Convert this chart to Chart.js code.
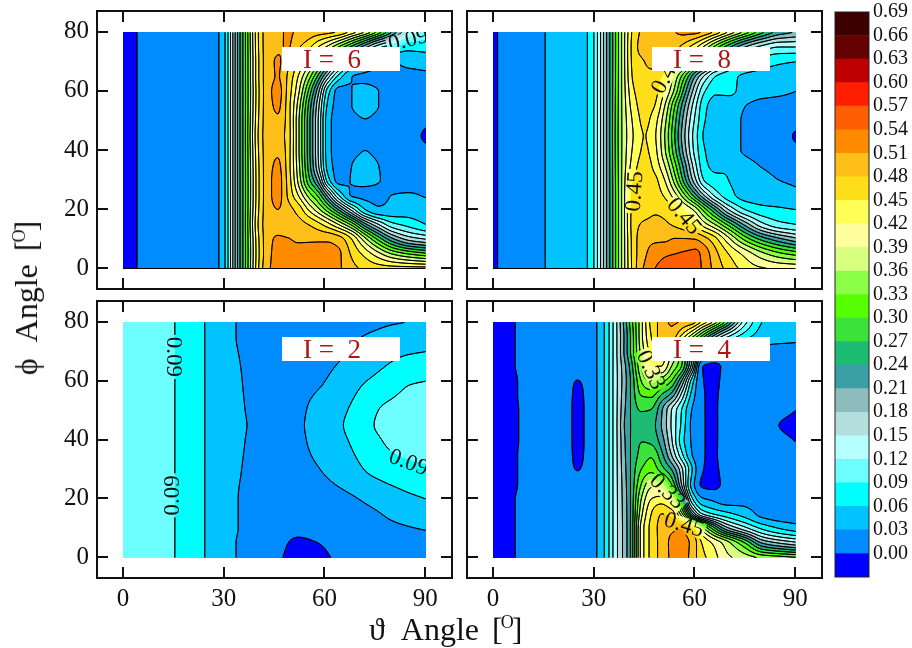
<!DOCTYPE html>
<html>
<head>
<meta charset="utf-8">
<script src="https://cdn.jsdelivr.net/npm/chart.js@4"></script>
<style>
  html, body { margin: 0; padding: 0; background: #fff; }
  #page { position: relative; width: 912px; height: 648px; overflow: hidden; font-family: "Liberation Serif", serif; }
  canvas { position: absolute; left: 0; top: 0; }
  .tag { position: absolute; width: 97px; height: 24px; padding-left: 21px; background: #fff; color: #b01414; font-size: 27px; line-height: 24px; white-space: pre; }
  .title { position: absolute; font-size: 32px; line-height: 34px; white-space: pre; color: #111; }
  .title sup { font-size: 18px; line-height: 0; vertical-align: 12px; margin: 0 -2px; }
  .title i { font-style: normal; margin-left: 5px; }
</style>
</head>
<body>
<div id="page">
  <canvas id="c6" width="912" height="648"></canvas>
  <canvas id="c8" width="912" height="648"></canvas>
  <canvas id="c2" width="912" height="648"></canvas>
  <canvas id="c4" width="912" height="648"></canvas>
  <canvas id="cbar" width="912" height="648"></canvas>
  <div class="tag" style="left:282px;top:47px">I =  6</div>
  <div class="tag" style="left:652px;top:47px">I =  8</div>
  <div class="tag" style="left:282px;top:337px">I =  2</div>
  <div class="tag" style="left:652px;top:337px">I =  4</div>
  <div class="title" style="left:369px;top:612px">ϑ  Angle <i>[<sup>O</sup>]</i></div>
  <div class="title" style="left:26px;top:298px;transform:translate(-50%,-50%) rotate(-90deg)">ϕ  Angle <i>[<sup>O</sup>]</i></div>
</div>
<script>
// --- tick labels and colour levels ---
const thetaTicks = [0, 30, 60, 90];
const phiTicks = [0, 20, 40, 60, 80];
const levels = [0, .03, .06, .09, .12, .15, .18, .21, .24, .27, .30, .33, .36, .39, .42, .45, .48, .51, .54, .57, .60, .63, .66, .69];
const bandColors = ['#0000ff', '#008cff', '#00c3ff', '#00ffff', '#6dffff', '#b5ffff', '#b5dfdf', '#8cbcbc', '#3a9fa5', '#1ebb73', '#3ae23a', '#55ff00', '#8cff47', '#d8ff80', '#ffff9e', '#ffff55', '#ffdf19', '#ffbf19', '#ff8c00', '#ff5f00', '#ff1e00', '#bf0000', '#640000', '#3c0000'];

// --- values, rows go from phi 0 upwards ---
const phiRows = [0, 5, 10, 15, 20, 25, 30, 35, 40, 45, 50, 55, 60, 65, 70, 75, 80];

const thetaI6 = [0, 4, 15, 28.5, 35, 42, 46, 49, 52, 55, 58, 61, 64, 68, 72, 76, 80, 85, 90];
const zI6 = [
  [-.012, 0, .015, .03, .25, .49, .525, .53, .53, .53, .53, .525, .515, .49, .475, .47, .47, .47, .47],
  [-.012, 0, .015, .03, .25, .485, .522, .525, .525, .525, .525, .522, .515, .475, .44, .40, .36, .33, .31],
  [-.012, 0, .015, .03, .25, .485, .515, .512, .505, .505, .505, .505, .495, .45, .37, .29, .22, .17, .15],
  [-.012, 0, .015, .03, .25, .485, .495, .49, .49, .48, .46, .43, .39, .32, .22, .15, .10, .08, .06],
  [-.012, 0, .015, .03, .25, .485, .51, .49, .47, .42, .37, .31, .24, .14, .06, .035, .04, .045, .04],
  [-.012, 0, .015, .03, .25, .485, .52, .475, .42, .35, .29, .19, .09, .027, .024, .022, .03, .032, .028],
  [-.012, 0, .015, .03, .25, .485, .52, .47, .385, .285, .20, .07, .022, .031, .035, .031, .022, .02, .02],
  [-.012, 0, .015, .03, .25, .485, .515, .465, .375, .265, .155, .045, .02, .03, .037, .03, .022, .018, .012],
  [-.012, 0, .015, .03, .25, .485, .505, .465, .37, .26, .15, .04, .018, .024, .03, .024, .02, .015, .005],
  [-.012, 0, .015, .03, .25, .485, .495, .465, .37, .26, .15, .04, .018, .022, .025, .022, .018, .01, -.004],
  [-.012, 0, .015, .03, .25, .485, .505, .465, .37, .26, .15, .04, .018, .024, .029, .024, .02, .015, .005],
  [-.012, 0, .015, .03, .25, .485, .515, .465, .38, .27, .16, .05, .02, .03, .037, .03, .022, .018, .012],
  [-.012, 0, .015, .03, .25, .485, .52, .47, .40, .30, .19, .07, .022, .03, .036, .03, .022, .02, .02],
  [-.012, 0, .015, .03, .25, .485, .512, .475, .42, .35, .26, .16, .08, .03, .025, .022, .022, .022, .024],
  [-.012, 0, .015, .03, .25, .485, .513, .49, .455, .41, .35, .28, .20, .12, .07, .04, .03, .04, .045],
  [-.012, 0, .015, .03, .25, .485, .505, .512, .485, .46, .42, .38, .33, .26, .19, .13, .10, .07, .07],
  [-.012, 0, .015, .03, .25, .485, .50, .515, .505, .50, .495, .49, .482, .44, .39, .32, .24, .15, .11]
];

const thetaI8 = [0, 1.2, 15.4, 28, 34, 38, 42, 45, 48, 51, 54, 57, 60, 63, 66, 70, 75, 80, 85, 90];
const zI8 = [
  [-.005, 0, .03, .06, .22, .355, .47, .515, .54, .555, .565, .565, .555, .53, .50, .47, .44, .425, .42, .42],
  [-.005, 0, .03, .06, .22, .355, .47, .505, .525, .535, .54, .545, .548, .525, .49, .45, .41, .37, .34, .32],
  [-.005, 0, .03, .06, .22, .355, .47, .50, .505, .505, .512, .512, .51, .49, .46, .40, .32, .26, .22, .19],
  [-.005, 0, .03, .06, .22, .355, .47, .485, .49, .485, .475, .46, .44, .40, .36, .29, .20, .13, .10, .09],
  [-.005, 0, .03, .06, .22, .355, .465, .47, .475, .47, .45, .42, .38, .31, .24, .15, .09, .07, .065, .06],
  [-.005, 0, .03, .06, .22, .355, .465, .475, .465, .445, .40, .33, .25, .17, .11, .07, .05, .045, .04, .035],
  [-.005, 0, .03, .06, .22, .355, .455, .47, .458, .42, .345, .25, .16, .085, .068, .06, .05, .04, .03, .026],
  [-.005, 0, .03, .06, .22, .355, .44, .465, .44, .39, .31, .22, .13, .065, .055, .058, .04, .028, .02, .012],
  [-.005, 0, .03, .06, .22, .355, .43, .455, .43, .365, .28, .19, .11, .06, .05, .04, .027, .02, .012, .005],
  [-.005, 0, .03, .06, .22, .355, .425, .451, .425, .36, .27, .18, .105, .055, .05, .04, .027, .02, .012, -.003],
  [-.005, 0, .03, .06, .22, .355, .43, .458, .432, .37, .28, .19, .115, .06, .05, .04, .027, .02, .012, .012],
  [-.005, 0, .03, .06, .22, .355, .44, .465, .45, .39, .30, .21, .13, .065, .05, .045, .03, .022, .02, .02],
  [-.005, 0, .03, .06, .22, .355, .45, .47, .46, .42, .35, .25, .16, .09, .065, .065, .05, .04, .035, .03],
  [-.005, 0, .03, .06, .22, .355, .46, .475, .47, .44, .38, .30, .21, .14, .09, .07, .055, .05, .045, .04],
  [-.005, 0, .03, .06, .22, .355, .465, .48, .49, .475, .45, .41, .35, .29, .22, .15, .10, .075, .065, .06],
  [-.005, 0, .03, .06, .22, .355, .47, .495, .505, .50, .49, .465, .43, .38, .32, .25, .18, .14, .12, .12],
  [-.005, 0, .03, .06, .22, .355, .465, .49, .50, .505, .51, .52, .52, .505, .475, .42, .35, .28, .23, .21]
];

const thetaI2 = [0, 15.3, 24.2, 33.5, 36.5, 45, 52, 58, 64, 70, 75, 80, 85, 90];
const phiI2 = [0, 5, 10, 20, 30, 40, 45, 50, 60, 70, 75, 80];
const zI2 = [
  [.105, .09, .06, .03, .026, .005, -.006, -.004, .003, .012, .016, .018, .02, .02],
  [.105, .09, .06, .03, .026, .008, -.003, 0, .006, .012, .017, .021, .024, .025],
  [.105, .09, .06, .031, .027, .012, .005, .008, .012, .017, .021, .026, .029, .031],
  [.105, .09, .06, .031, .027, .015, .012, .015, .022, .03, .037, .046, .054, .06],
  [.105, .09, .06, .033, .028, .018, .022, .029, .042, .056, .068, .077, .083, .086],
  [.105, .09, .06, .036, .0295, .018, .026, .037, .053, .068, .085, .096, .101, .104],
  [.105, .09, .06, .037, .0305, .018, .027, .038, .056, .072, .091, .10, .105, .107],
  [.105, .09, .06, .036, .0295, .018, .026, .037, .053, .069, .088, .097, .103, .106],
  [.105, .09, .06, .034, .028, .018, .022, .027, .038, .055, .065, .075, .087, .09],
  [.105, .09, .06, .031, .027, .015, .017, .021, .026, .035, .044, .052, .057, .06],
  [.105, .09, .06, .03, .026, .014, .015, .019, .022, .029, .034, .039, .043, .046],
  [.105, .09, .06, .03, .026, .012, .013, .016, .019, .022, .025, .028, .03, .033]
];

const thetaI4 = [0, 6.5, 15, 22, 25, 28, 30.8, 33, 36, 40.8, 44, 47, 50, 53, 56, 59, 62, 65, 69, 75, 80, 85, 90];
const zI4 = [
  [-.01, 0, .012, .012, .012, .018, .03, .06, .13, .24, .40, .46, .49, .515, .525, .50, .46, .44, .40, .38, .36, .35, .34],
  [-.01, 0, .012, .012, .012, .018, .03, .06, .13, .24, .40, .46, .49, .515, .52, .505, .45, .42, .38, .30, .21, .18, .16],
  [-.01, 0, .012, .012, .012, .018, .03, .06, .13, .24, .40, .46, .49, .505, .51, .47, .38, .30, .20, .13, .085, .06, .045],
  [-.01, 0, .012, .012, .012, .018, .03, .06, .13, .24, .38, .45, .48, .47, .37, .22, .12, .09, .07, .045, .022, .015, .012],
  [-.01, 0, .012, .012, .012, .018, .03, .06, .13, .24, .36, .42, .43, .39, .27, .10, .035, .025, .015, .02, .018, .015, .012],
  [-.01, -.001, .01, .008, .008, .012, .03, .06, .13, .24, .33, .38, .37, .30, .18, .05, -.003, -.006, .004, .012, .015, .014, .012],
  [-.01, -.001, .01, .004, -.0005, .005, .03, .06, .13, .24, .30, .32, .285, .24, .16, .065, .002, -.004, .005, .012, .013, .012, .01],
  [-.01, -.001, .01, .004, -.003, .004, .03, .06, .13, .24, .28, .295, .25, .18, .10, .032, .003, -.003, .006, .012, .012, .012, .008],
  [-.01, -.0015, .01, .004, -.004, .004, .03, .06, .13, .24, .268, .262, .225, .155, .075, .027, .003, -.003, .006, .014, .012, .006, -.001],
  [-.01, -.0015, .01, .004, -.004, .004, .03, .06, .13, .24, .25, .25, .21, .147, .085, .025, .003, -.003, .006, .015, .012, 0, -.006],
  [-.01, -.0015, .01, .004, -.004, .004, .03, .06, .13, .24, .272, .268, .215, .15, .09, .03, .003, -.003, .006, .014, .012, .007, 0],
  [-.01, -.001, .01, .004, -.003, .004, .03, .06, .13, .24, .30, .305, .265, .225, .14, .05, .003, -.003, .005, .013, .013, .013, .012],
  [-.01, -.001, .01, .004, -.0005, .005, .03, .06, .13, .24, .33, .37, .34, .30, .21, .08, .002, -.004, .004, .014, .014, .015, .015],
  [-.01, 0, .012, .012, .012, .018, .03, .06, .13, .25, .36, .42, .42, .36, .30, .17, .001, -.005, .003, .012, .018, .02, .02],
  [-.01, 0, .012, .012, .012, .018, .03, .06, .13, .27, .37, .43, .44, .40, .32, .22, .13, .06, .025, .02, .022, .025, .027],
  [-.01, 0, .012, .012, .012, .018, .03, .06, .13, .27, .38, .45, .49, .495, .44, .37, .29, .21, .13, .07, .045, .035, .032],
  [-.01, 0, .012, .012, .012, .018, .03, .06, .13, .28, .38, .46, .49, .515, .51, .50, .45, .40, .30, .13, .06, .045, .04]
];

// contour labels: text, theta, phi, rotation in degrees
const labelsI6 = [['0.09', 85, 77, -14]];
const labelsI8 = [['0.45', 42.3, 26, -86], ['0.45', 56.8, 17.5, 50], ['0.45', 51.8, 65.5, -62]];
const labelsI2 = [['0.09', 15, 68, 90], ['0.09', 15, 21, -90], ['0.09', 85, 32, 20]];
const labelsI4 = [['0.33', 46.8, 63.5, 65], ['0.33', 51.8, 22.3, 45], ['0.45', 56.8, 10.8, 17]];

const font = 'Liberation Serif';

// monotone cubic through the read values, so the contours stay round without overshooting
function smoothAt(xs, ys, queries) {
  const n = xs.length, d = [], m = new Array(n);
  for (let i = 0; i < n - 1; i++) d.push((ys[i + 1] - ys[i]) / (xs[i + 1] - xs[i]));
  m[0] = d[0]; m[n - 1] = d[n - 2];
  for (let i = 1; i < n - 1; i++) {
    if (d[i - 1] * d[i] <= 0) { m[i] = 0; continue; }
    const h0 = xs[i] - xs[i - 1], h1 = xs[i + 1] - xs[i];
    m[i] = (2 * h1 + h0 + h1 + 2 * h0) / ((2 * h1 + h0) / d[i - 1] + (h1 + 2 * h0) / d[i]);
  }
  return queries.map(q => {
    let i = 0;
    while (i < n - 2 && q > xs[i + 1]) i++;
    const h = xs[i + 1] - xs[i], t = Math.max(0, Math.min(1, (q - xs[i]) / h));
    const t2 = t * t, t3 = t2 * t;
    return (2 * t3 - 3 * t2 + 1) * ys[i] + (t3 - 2 * t2 + t) * h * m[i] + (-2 * t3 + 3 * t2) * ys[i + 1] + (t3 - t2) * h * m[i + 1];
  });
}

function blur(field, nx, ny) {
  const out = new Float32Array(field.length);
  for (let j = 0; j < ny; j++) {
    for (let i = 0; i < nx; i++) {
      let s = 0;
      for (let b = -1; b <= 1; b++) {
        for (let a = -1; a <= 1; a++) {
          s += field[Math.max(0, Math.min(ny - 1, j + b)) * nx + Math.max(0, Math.min(nx - 1, i + a))];
        }
      }
      out[j * nx + i] = s / 9;
    }
  }
  return out;
}

const contourPlugin = {
  id: 'contour',
  beforeDatasetsDraw(chart, args, opts) {
    const { ctx, scales: { x, y } } = chart;
    const x0 = Math.round(x.getPixelForValue(0)), x1 = Math.round(x.getPixelForValue(90));
    const y0 = Math.round(y.getPixelForValue(80)), y1 = Math.round(y.getPixelForValue(0));
    const nx = x1 - x0 + 1, ny = y1 - y0 + 1;
    const qx = [], qy = [];
    for (let i = 0; i < nx; i++) qx.push(x.getValueForPixel(x0 + i));
    for (let j = 0; j < ny; j++) qy.push(y.getValueForPixel(y0 + j));
    const rows = opts.z.map(r => smoothAt(opts.theta, r, qx));
    let field = new Float32Array(nx * ny);
    for (let i = 0; i < nx; i++) {
      const col = smoothAt(opts.phi, rows.map(r => r[i]), qy);
      for (let j = 0; j < ny; j++) field[j * nx + i] = col[j];
    }
    field = blur(field, nx, ny);

    // filled bands
    const band = v => { let k = 0; while (k < levels.length && v >= levels[k]) k++; return k; };
    for (let j = 0; j < ny; j++) {
      let start = 0, cur = band(field[j * nx]);
      for (let i = 1; i <= nx; i++) {
        const b = i < nx ? band(field[j * nx + i]) : -1;
        if (b !== cur) {
          ctx.fillStyle = bandColors[Math.min(cur, bandColors.length - 1)];
          ctx.fillRect(x0 + start, y0 + j, i - start, 1);
          start = i; cur = b;
        }
      }
    }

    // contour lines, with a gap under each label
    ctx.save();
    ctx.beginPath();
    ctx.rect(x0, y0, nx, ny);
    ctx.font = opts.labelSize + 'px "' + font + '"';
    const boxes = opts.labels.map(l => {
      const w = ctx.measureText(l[0]).width / 2 + 2, h = opts.labelSize * .36;
      const c = Math.cos(l[3] * Math.PI / 180), s = Math.sin(l[3] * Math.PI / 180);
      const px = x.getPixelForValue(l[1]), py = y.getPixelForValue(l[2]);
      return [[-w, -h], [w, -h], [w, h], [-w, h]].map(p => [px + p[0] * c - p[1] * s, py + p[0] * s + p[1] * c]);
    });
    boxes.forEach(b => {
      ctx.moveTo(b[0][0], b[0][1]);
      for (let k = 1; k < 4; k++) ctx.lineTo(b[k][0], b[k][1]);
      ctx.closePath();
    });
    ctx.clip('evenodd');
    ctx.strokeStyle = '#000';
    ctx.lineWidth = 1;
    ctx.lineCap = 'round';
    ctx.beginPath();
    levels.forEach(lv => {
      for (let j = 0; j < ny - 1; j++) {
        for (let i = 0; i < nx - 1; i++) {
          const a = field[j * nx + i], b = field[j * nx + i + 1], c = field[(j + 1) * nx + i + 1], d = field[(j + 1) * nx + i];
          const pts = [];
          if ((a < lv) !== (b < lv)) pts.push([i + (lv - a) / (b - a), j]);
          if ((b < lv) !== (c < lv)) pts.push([i + 1, j + (lv - b) / (c - b)]);
          if ((d < lv) !== (c < lv)) pts.push([i + (lv - d) / (c - d), j + 1]);
          if ((a < lv) !== (d < lv)) pts.push([i, j + (lv - a) / (d - a)]);
          for (let k = 0; k + 1 < pts.length; k += 2) {
            ctx.moveTo(x0 + pts[k][0] + .5, y0 + pts[k][1] + .5);
            ctx.lineTo(x0 + pts[k + 1][0] + .5, y0 + pts[k + 1][1] + .5);
          }
        }
      }
    });
    // top panels have a dark line along phi = 0
    if (opts.baseLine) {
      ctx.moveTo(x0, y1 + .5);
      ctx.lineTo(x1, y1 + .5);
    }
    ctx.stroke();
    ctx.restore();

    // contour labels, cut off at the edge of the data like the lines
    ctx.save();
    ctx.beginPath();
    ctx.rect(x0, y0, nx, ny);
    ctx.clip();
    ctx.fillStyle = '#111';
    ctx.font = opts.labelSize + 'px "' + font + '"';
    ctx.textAlign = 'center';
    ctx.textBaseline = 'middle';
    opts.labels.forEach(l => {
      ctx.save();
      ctx.translate(x.getPixelForValue(l[1]), y.getPixelForValue(l[2]));
      ctx.rotate(l[3] * Math.PI / 180);
      ctx.fillText(l[0], 0, 0);
      ctx.restore();
    });
    ctx.restore();
  },
  afterDraw(chart) {
    // frame and inward ticks on all four sides
    const { ctx, chartArea: a, scales: { x, y } } = chart;
    ctx.save();
    ctx.strokeStyle = '#111';
    ctx.lineWidth = 2;
    ctx.strokeRect(a.left, a.top, a.right - a.left, a.bottom - a.top);
    ctx.beginPath();
    thetaTicks.forEach(v => {
      const px = Math.round(x.getPixelForValue(v));
      ctx.moveTo(px, a.top); ctx.lineTo(px, a.top + 11);
      ctx.moveTo(px, a.bottom); ctx.lineTo(px, a.bottom - 11);
    });
    phiTicks.forEach(v => {
      const py = Math.round(y.getPixelForValue(v));
      ctx.moveTo(a.left, py); ctx.lineTo(a.left + 11, py);
      ctx.moveTo(a.right, py); ctx.lineTo(a.right - 11, py);
    });
    ctx.stroke();
    ctx.restore();
  }
};

// scale boxes run out to the canvas edge: tick labels get clipped to the box
function fixedScale(size) {
  return s => {
    if (s.isHorizontal()) s.height = size; else s.width = size;
    s.paddingTop = s.paddingBottom = s.paddingLeft = s.paddingRight = 0;
  };
}

function panel(id, area, theta, phi, z, labels, showX, showY) {
  const points = [];
  phi.forEach((p, j) => theta.forEach((t, i) => points.push({ x: t, y: p, z: z[j][i] })));
  new Chart(document.getElementById(id), {
    type: 'scatter',
    data: { datasets: [{ data: points, pointRadius: 0 }] },
    plugins: [contourPlugin],
    options: {
      responsive: false,
      animation: false,
      devicePixelRatio: 1,
      layout: { padding: { left: 0, top: area[1], right: 912 - area[2], bottom: 0 } },
      plugins: {
        legend: { display: false },
        tooltip: { enabled: false },
        contour: { theta, phi, z, labels, labelSize: 23, baseLine: !showX }
      },
      scales: {
        x: {
          type: 'linear', min: -7.75, max: 98,
          grid: { display: false, drawTicks: false }, border: { display: false },
          afterBuildTicks: s => { s.ticks = thetaTicks.map(v => ({ value: v })); },
          afterFit: fixedScale(648 - area[3]),
          ticks: { display: showX, padding: 6, color: '#111', maxRotation: 0, font: { family: font, size: 25 } }
        },
        y: {
          type: 'linear', min: -7, max: 87,
          grid: { display: false, drawTicks: false }, border: { display: false },
          afterBuildTicks: s => { s.ticks = phiTicks.map(v => ({ value: v })); },
          afterFit: fixedScale(area[0]),
          ticks: { display: showY, padding: 8, color: '#111', font: { family: font, size: 25 } }
        }
      }
    }
  });
}

panel('c6', [97, 11, 452, 289], thetaI6, phiRows, zI6, labelsI6, false, true);
panel('c8', [467, 11, 822, 289], thetaI8, phiRows, zI8, labelsI8, false, false);
panel('c2', [97, 301, 452, 578], thetaI2, phiI2, zI2, labelsI2, true, true);
panel('c4', [467, 301, 822, 578], thetaI4, phiRows, zI4, labelsI4, true, false);

// colour scale: one floating bar per band, first band sits below 0.00
const bandEdges = [-.03].concat(levels);
new Chart(document.getElementById('cbar'), {
  type: 'bar',
  data: {
    labels: [''],
    datasets: bandColors.map((c, i) => ({
      data: [[bandEdges[i], bandEdges[i + 1]]],
      backgroundColor: c, borderWidth: 0, barPercentage: 1, categoryPercentage: 1
    }))
  },
  plugins: [{
    id: 'barFrame',
    afterDraw(chart) {
      const { ctx, chartArea: a } = chart;
      ctx.strokeStyle = '#222';
      ctx.lineWidth = 1;
      ctx.strokeRect(a.left, a.top, a.right - a.left, a.bottom - a.top);
    }
  }],
  options: {
    responsive: false,
    animation: false,
    devicePixelRatio: 1,
    layout: { padding: { left: 835, top: 12, right: 0, bottom: 648 - 577 } },
    plugins: { legend: { display: false }, tooltip: { enabled: false } },
    scales: {
      x: { stacked: true, display: false },
      y: {
        position: 'right', min: -.03, max: .69,
        grid: { display: false, drawTicks: false }, border: { display: false },
        afterBuildTicks: s => { s.ticks = levels.map(v => ({ value: v })); },
        afterFit: fixedScale(912 - 869),
        ticks: { padding: 4, color: '#111', callback: v => v.toFixed(2), font: { family: font, size: 20, lineHeight: 1 } }
      }
    }
  }
});
</script>
</body>
</html>
